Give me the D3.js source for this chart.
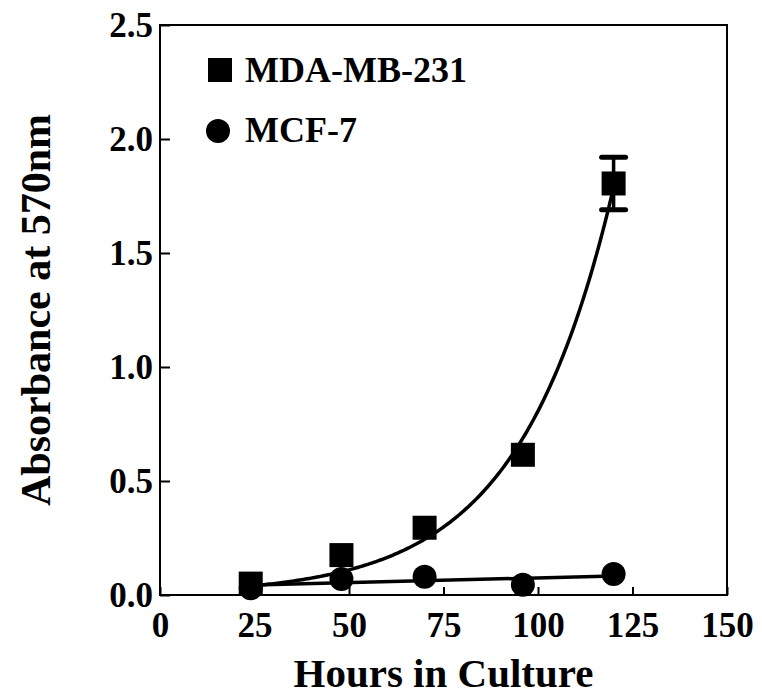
<!DOCTYPE html>
<html>
<head>
<meta charset="utf-8">
<script src="https://cdn.jsdelivr.net/npm/d3@7"></script>
<style>
  body { margin: 0; background: #fff; }
  svg text { font-family: "Liberation Serif", "Times New Roman", serif; font-weight: bold; fill: #000; }
</style>
</head>
<body>
<svg id="chart" width="762" height="700"></svg>
<script>
// hours in culture
const hours = [24, 48, 70, 96, 120];
// absorbance at 570nm
const mdaValues = [0.05, 0.175, 0.295, 0.615, 1.805];
const mdaErrors = [0.01, 0.015, 0.02, 0.03, 0.115];
const mcfValues = [0.03, 0.07, 0.08, 0.045, 0.092];

const xTicks = [0, 25, 50, 75, 100, 125, 150];
const yTicks = [0, 0.5, 1.0, 1.5, 2.0, 2.5];
const seriesNames = ["MDA-MB-231", "MCF-7"];

const svg = d3.select("#chart");
const plotLeft = 160, plotRight = 727, plotTop = 25, plotBottom = 595;

const x = d3.scaleLinear().domain([0, 150]).range([plotLeft, plotRight]);
const y = d3.scaleLinear().domain([0, 2.5]).range([plotBottom, plotTop]);

// ======== axes (ticks point inward)
const xAxis = svg.append("g")
  .attr("transform", `translate(0,${plotBottom})`)
  .call(d3.axisBottom(x).tickValues(xTicks).tickSize(-8).tickPadding(17).tickFormat(d3.format("d")));
xAxis.select(".domain").remove();
xAxis.selectAll("line").attr("stroke-width", 2);
xAxis.selectAll("text").style("font-size", "35px").attr("fill", "#000");

const yAxis = svg.append("g")
  .attr("transform", `translate(${plotLeft},0)`)
  .call(d3.axisLeft(y).tickValues(yTicks).tickSize(-10).tickPadding(7).tickFormat(d3.format(".1f")));
yAxis.select(".domain").remove();
yAxis.selectAll("line").attr("stroke-width", 2);
yAxis.selectAll("text").style("font-size", "35px").attr("fill", "#000");

svg.append("rect")
  .attr("x", plotLeft).attr("y", plotTop)
  .attr("width", plotRight - plotLeft).attr("height", plotBottom - plotTop)
  .attr("fill", "none").attr("stroke", "#000").attr("stroke-width", 2);

// ======== axis titles
svg.append("text")
  .attr("x", (plotLeft + plotRight) / 2).attr("y", 687)
  .attr("text-anchor", "middle")
  .style("font-size", "41px")
  .text("Hours in Culture");

svg.append("text")
  .attr("transform", `translate(50,${(plotTop + plotBottom) / 2}) rotate(-90)`)
  .attr("text-anchor", "middle")
  .style("font-size", "42px")
  .text("Absorbance at 570nm");

// ======== fits: exponential for MDA-MB-231, linear for MCF-7
function expFit(xs, ys) {
  let best = null;
  for (let b = 0.001; b < 0.1; b += 0.0001) {
    let num = 0, den = 0;
    xs.forEach((xv, i) => { const e = Math.exp(b * xv); num += ys[i] * e; den += e * e; });
    const a = num / den;
    let sse = 0;
    xs.forEach((xv, i) => { sse += (ys[i] - a * Math.exp(b * xv)) ** 2; });
    if (!best || sse < best.sse) best = { a, b, sse };
  }
  return xv => best.a * Math.exp(best.b * xv);
}

function linFit(xs, ys) {
  const mx = d3.mean(xs), my = d3.mean(ys);
  let sxy = 0, sxx = 0;
  xs.forEach((xv, i) => { sxy += (xv - mx) * (ys[i] - my); sxx += (xv - mx) ** 2; });
  const slope = sxy / sxx;
  return xv => my + slope * (xv - mx);
}

const mdaFit = expFit(hours, mdaValues);
const mcfFit = linFit(hours, mcfValues);
const fitXs = d3.range(hours[0], hours[hours.length - 1] + 0.01, 0.5);

const line = d3.line().x(d => x(d[0])).y(d => y(d[1]));

svg.append("path")
  .datum(fitXs.map(h => [h, mdaFit(h)]))
  .attr("d", line)
  .attr("fill", "none").attr("stroke", "#000").attr("stroke-width", 3.5);

svg.append("path")
  .datum([hours[0], hours[hours.length - 1]].map(h => [h, mcfFit(h)]))
  .attr("d", line)
  .attr("fill", "none").attr("stroke", "#000").attr("stroke-width", 3.5);

// ======== error bars (MDA-MB-231) - hidden when shorter than the symbol
const sq = 24;
const errG = svg.append("g").attr("stroke", "#000").attr("stroke-linecap", "round");
hours.forEach((h, i) => {
  const y1 = y(mdaValues[i] + mdaErrors[i]), y2 = y(mdaValues[i] - mdaErrors[i]);
  if (y2 - y1 < sq + 4) return;
  errG.append("line").attr("x1", x(h)).attr("x2", x(h)).attr("y1", y1).attr("y2", y2).attr("stroke-width", 3.5);
  [y1, y2].forEach(yy => errG.append("line")
    .attr("x1", x(h) - 12).attr("x2", x(h) + 12).attr("y1", yy).attr("y2", yy).attr("stroke-width", 5));
});

// ======== markers
svg.append("g").selectAll("circle")
  .data(hours)
  .join("circle")
  .attr("cx", d => x(d))
  .attr("cy", (d, i) => y(mcfValues[i]))
  .attr("r", 12)
  .attr("fill", "#000");

svg.append("g").selectAll("rect")
  .data(hours)
  .join("rect")
  .attr("x", d => x(d) - sq / 2)
  .attr("y", (d, i) => y(mdaValues[i]) - sq / 2)
  .attr("width", sq).attr("height", sq)
  .attr("fill", "#000");

// ======== legend
const legend = svg.append("g");
legend.append("rect").attr("x", 208).attr("y", 58).attr("width", sq).attr("height", sq).attr("fill", "#000");
legend.append("circle").attr("cx", 218).attr("cy", 131).attr("r", 12).attr("fill", "#000");
legend.selectAll("text")
  .data(seriesNames)
  .join("text")
  .attr("x", 245)
  .attr("y", (d, i) => i === 0 ? 82 : 142)
  .style("font-size", "36px")
  .text(d => d);
</script>
</body>
</html>
